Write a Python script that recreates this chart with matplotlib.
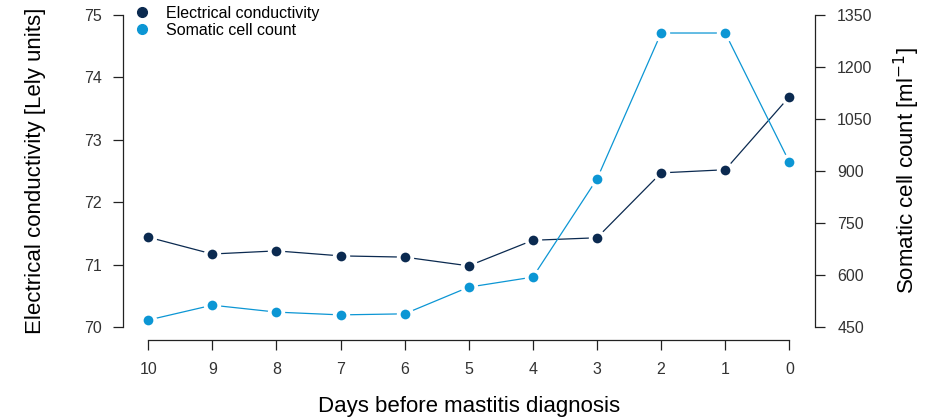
import numpy as np
import matplotlib.pyplot as plt
from matplotlib.lines import Line2D

plt.rcParams['font.family'] = ['Liberation Sans', 'DejaVu Sans']

days = [10, 9, 8, 7, 6, 5, 4, 3, 2, 1, 0]
ec = [71.44, 71.17, 71.22, 71.14, 71.12, 70.98, 71.39, 71.43, 72.47, 72.52, 73.69]
scc = [470, 513, 493, 485, 488, 565, 594, 877, 1298, 1298, 926]

ec_ticks = [70, 71, 72, 73, 74, 75]
scc_ticks = [450, 600, 750, 900, 1050, 1200, 1350]

ec_col = '#0b2a50'
scc_col = '#0c96d4'
tick_col = '#333333'

fig = plt.figure(figsize=(9.31, 4.2), dpi=100)
ax = fig.add_axes([122.5 / 931, 1 - 339.5 / 420, (815 - 122.5) / 931, (339.5 - 2.5) / 420])
ax2 = ax.twinx()

ax.set_xlim(10.4, -0.4)
ax.set_ylim(69.8, 75.2)
ax2.set_ylim(414, 1386)


def draw(a, x, y, col):
    # R type="b": line with gaps around the points
    a.plot(x, y, color=col, lw=0.9, zorder=1)
    a.plot(x, y, 'o', ms=12.5, color='white', mew=0, zorder=2)
    a.plot(x, y, 'o', ms=7, color=col, mew=0, zorder=3)


draw(ax, days, ec, ec_col)
draw(ax2, days, scc, scc_col)

for a in (ax, ax2):
    a.spines['top'].set_visible(False)
    a.patch.set_visible(False)
ax.spines['right'].set_visible(False)
ax2.spines['left'].set_visible(False)
ax2.spines['bottom'].set_visible(False)
ax.spines['left'].set_bounds(70, 75)
ax.spines['bottom'].set_bounds(0, 10)
ax2.spines['right'].set_bounds(450, 1350)

ax.set_xticks(days)
ax.set_xticklabels([str(d) for d in days])
ax.set_yticks(ec_ticks)
ax2.set_yticks(scc_ticks)

ax.tick_params(axis='both', length=7, width=0.9, labelsize=11.5, labelcolor=tick_col, color='#222222')
ax.tick_params(axis='y', pad=8)
ax.tick_params(axis='x', pad=9)
ax2.tick_params(axis='y', length=7, width=0.9, labelsize=11.5, labelcolor=tick_col, color='#222222', pad=9)
for a in (ax, ax2):
    for s in a.spines.values():
        s.set_linewidth(0.9)
        s.set_color('#222222')

ax.set_xlabel('Days before mastitis diagnosis', fontsize=16, labelpad=14)
ax.set_ylabel('Electrical conductivity [Lely units]', fontsize=16, labelpad=27)
ax2.set_ylabel('Somatic cell count [ml$^{-1}$]', fontsize=16, labelpad=14)

handles = [Line2D([], [], marker='o', ls='none', ms=7, color=ec_col),
           Line2D([], [], marker='o', ls='none', ms=7, color=scc_col)]
ax2.legend(handles, ['Electrical conductivity', 'Somatic cell count'], loc='upper left',
           bbox_to_anchor=(0.012, 1.0), frameon=False, fontsize=11.5, handlelength=1,
           handletextpad=1.0, labelspacing=0.15, borderaxespad=0.0, borderpad=0.2)

fig.savefig('out.png', dpi=100)
